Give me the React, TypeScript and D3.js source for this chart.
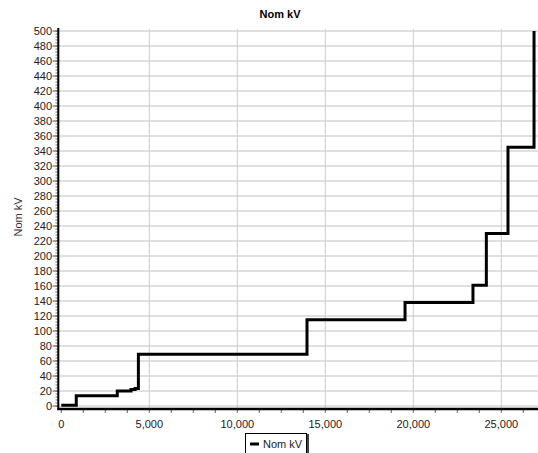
import React, { useRef, useEffect } from "react";
import * as d3 from "d3";

// cumulative count where each voltage level begins (step-after)
const counts = [0, 850, 3180, 3960, 4190, 4380, 13960, 19530, 23390, 24150, 25380, 26860];
const nomKv = [1, 13.8, 20, 22, 23.5, 69, 115, 138, 161, 230, 345, 500];
const xTicks = [0, 5000, 10000, 15000, 20000, 25000];
const yTicks = d3.range(0, 501, 20);
const seriesName = "Nom kV";

export default function App() {
  const ref = useRef<SVGSVGElement>(null);

  useEffect(() => {
    const W = 538;
    const H = 453;
    const font = "'Liberation Sans', Arial, sans-serif";

    const x = d3.scaleLinear().domain([0, 27000]).range([61.3, 536.5]);
    const y = d3.scaleLinear().domain([0, 500]).range([406, 31]);

    const svg = d3.select(ref.current).html("");
    svg.attr("width", W).attr("height", H).style("font-family", font);

    svg.append("rect").attr("width", W).attr("height", H).attr("fill", "#fff");

    // grid
    const grid = svg.append("g");
    grid
      .selectAll(".hg")
      .data(yTicks)
      .enter()
      .append("line")
      .attr("x1", 59)
      .attr("x2", W)
      .attr("y1", (d) => y(d))
      .attr("y2", (d) => y(d))
      .attr("stroke", "#d6d6d6")
      .attr("stroke-width", 1.6);
    grid
      .selectAll(".vg")
      .data(xTicks.slice(1))
      .enter()
      .append("line")
      .attr("x1", (d) => x(d))
      .attr("x2", (d) => x(d))
      .attr("y1", 29)
      .attr("y2", 408)
      .attr("stroke", "#cccccc")
      .attr("stroke-width", 1);

    // title
    svg
      .append("text")
      .attr("x", 280)
      .attr("y", 18)
      .attr("text-anchor", "middle")
      .attr("font-size", 11)
      .attr("font-weight", "bold")
      .text(seriesName);

    // y axis label
    svg
      .append("text")
      .attr("transform", "translate(22,217) rotate(-90)")
      .attr("text-anchor", "middle")
      .attr("font-size", 11)
      .attr("fill", "#333")
      .text(seriesName);

    // y axis
    const yAxis = svg.append("g");
    yAxis
      .selectAll(".ymin")
      .data(d3.range(0, 501, 4))
      .enter()
      .append("line")
      .attr("x1", 55.5)
      .attr("x2", 58)
      .attr("y1", (d) => y(d))
      .attr("y2", (d) => y(d))
      .attr("stroke", "#777")
      .attr("stroke-width", 1);
    yAxis
      .selectAll(".ymaj")
      .data(yTicks)
      .enter()
      .append("line")
      .attr("x1", 52.5)
      .attr("x2", 58)
      .attr("y1", (d) => y(d))
      .attr("y2", (d) => y(d))
      .attr("stroke", "#555")
      .attr("stroke-width", 1);
    yAxis
      .selectAll("text")
      .data(yTicks)
      .enter()
      .append("text")
      .attr("x", 52)
      .attr("y", (d) => y(d) + 4)
      .attr("text-anchor", "end")
      .attr("font-size", 11)
      .attr("fill", "#222")
      .text((d) => d);
    yAxis
      .append("line")
      .attr("x1", 58.3)
      .attr("x2", 58.3)
      .attr("y1", 28)
      .attr("y2", 410)
      .attr("stroke", "#000")
      .attr("stroke-width", 2);

    // x axis
    const xAxis = svg.append("g");
    xAxis
      .selectAll(".xmin")
      .data(d3.range(0, 27001, 1250))
      .enter()
      .append("line")
      .attr("x1", (d) => x(d))
      .attr("x2", (d) => x(d))
      .attr("y1", 409)
      .attr("y2", 413)
      .attr("stroke", "#666")
      .attr("stroke-width", 1);
    xAxis
      .selectAll("text")
      .data(xTicks)
      .enter()
      .append("text")
      .attr("x", (d) => x(d))
      .attr("y", 428)
      .attr("text-anchor", "middle")
      .attr("font-size", 11)
      .attr("fill", "#222")
      .text((d) => d3.format(",")(d));
    xAxis
      .append("line")
      .attr("x1", 57.3)
      .attr("x2", W)
      .attr("y1", 409)
      .attr("y2", 409)
      .attr("stroke", "#000")
      .attr("stroke-width", 2.5);

    // step line
    const line = d3
      .line<number>()
      .x((d, i) => x(counts[i]))
      .y((d) => y(d))
      .curve(d3.curveStepAfter);
    svg
      .append("path")
      .datum(nomKv)
      .attr("fill", "none")
      .attr("stroke", "#000")
      .attr("stroke-width", 3)
      .attr("stroke-linejoin", "miter")
      .attr("d", line);

    // legend
    const lg = svg.append("g").attr("transform", "translate(245,433)");
    lg.append("rect").attr("x", 2).attr("y", 1).attr("width", 62).attr("height", 24).attr("fill", "#444");
    lg.append("rect")
      .attr("x", 0.5)
      .attr("y", 0.5)
      .attr("width", 61)
      .attr("height", 24)
      .attr("fill", "#fff")
      .attr("stroke", "#000");
    lg.append("line").attr("x1", 5).attr("x2", 14).attr("y1", 11).attr("y2", 11).attr("stroke", "#000").attr("stroke-width", 3);
    lg.append("text").attr("x", 18).attr("y", 15).attr("font-size", 11).attr("fill", "#222").text(seriesName);
  }, []);

  return (
    <div style={{ position: "absolute", left: 0, top: 0 }}>
      <svg ref={ref} style={{ display: "block" }} />
    </div>
  );
}
